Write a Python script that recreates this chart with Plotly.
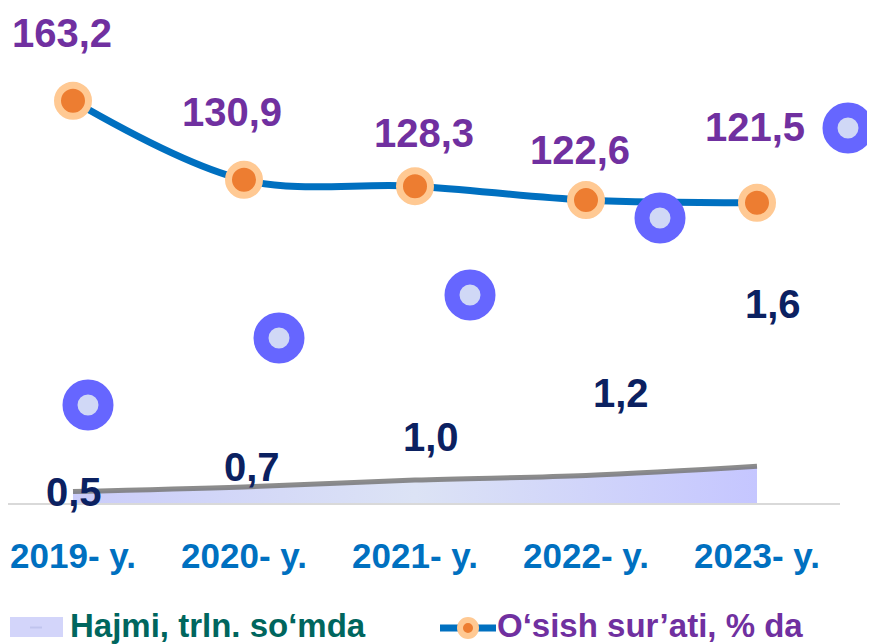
import plotly.graph_objects as go

# ---- data ----
years = ["2019- y.", "2020- y.", "2021- y.", "2022- y.", "2023- y."]
volume = [0.5, 0.7, 1.0, 1.2, 1.6]          # Hajmi, trln. so'mda
growth = [163.2, 130.9, 128.3, 122.6, 121.5]  # O'sish sur'ati, % da

vol_labels = ["0,5", "0,7", "1,0", "1,2", "1,6"]
gr_labels = ["163,2", "130,9", "128,3", "122,6", "121,5"]
series_names = ["Hajmi, trln. so‘mda", "O‘sish sur’ati, % da"]

# ---- label offsets (px) ----
vol_xshift = [1, 8, 16, 35, 16]
vol_yshift = [0, 20, 43, 83, 162]
gr_xshift = [-11, -12, 9, -6, -2]
gr_yshift = [68, 68, 53, 50, 76]

# ---- layout geometry (page body has an 8px margin) ----
OFF = 8
W, H = 875 - OFF, 644 - OFF
ML, MR, MT, MB = 0, 35, 0, 141
PW = W - ML - MR
PH = H - MT - MB

FONT = "Liberation Sans, Arial, sans-serif"
PURPLE = "#7030A0"
NAVY = "#0B2161"
BLUE = "#0070C0"
TEAL = "#00665E"
ORANGE = "#ED7D31"
PEACH = "#FFC993"


def px2paper_x(px):
    return (px - OFF - ML) / PW


def px2paper_y(py):
    return (MT + PH - (py - OFF)) / PH


fig = go.Figure()

fig.add_trace(go.Scatter(
    x=years, y=volume, mode="lines", fill="tozeroy",
    name=series_names[0],
    line=dict(color="rgba(120,120,120,0.85)", width=5, shape="spline"),
    fillgradient=dict(type="horizontal",
                      colorscale=[[0, "#CACCFA"], [0.5, "#DCE3F5"], [1, "#C5C6FF"]]),
    yaxis="y", hoverinfo="skip",
))

fig.add_trace(go.Scatter(
    x=years, y=growth, mode="lines+markers",
    name=series_names[1],
    line=dict(color=BLUE, width=7, shape="spline", smoothing=1),
    marker=dict(size=31, color=ORANGE, line=dict(color=PEACH, width=7)),
    yaxis="y2",
))

annotations = []
for i, (v, t) in enumerate(zip(volume, vol_labels)):
    annotations.append(dict(
        x=i, y=v, xref="x", yref="y", text=t, showarrow=False,
        xshift=vol_xshift[i], yshift=vol_yshift[i],
        font=dict(family=FONT, size=40, color=NAVY, weight="bold"),
    ))
for i, (g, t) in enumerate(zip(growth, gr_labels)):
    annotations.append(dict(
        x=i, y=g, xref="x", yref="y2", text=t, showarrow=False,
        xshift=gr_xshift[i], yshift=gr_yshift[i],
        font=dict(family=FONT, size=40, color=PURPLE, weight="bold"),
    ))

# ---- manual legend ----
LEG_Y = 625
annotations.append(dict(
    x=px2paper_x(68), y=px2paper_y(LEG_Y), xref="paper", yref="paper",
    xanchor="left", yanchor="middle", showarrow=False, text=series_names[0],
    font=dict(family=FONT, size=33, color=TEAL, weight="bold"),
))
annotations.append(dict(
    x=px2paper_x(495), y=px2paper_y(LEG_Y), xref="paper", yref="paper",
    xanchor="left", yanchor="middle", showarrow=False, text=series_names[1],
    font=dict(family=FONT, size=33, color=PURPLE, weight="bold"),
))

shapes = []
# area swatch
shapes.append(dict(
    type="rect", xref="paper", yref="paper",
    x0=px2paper_x(10), x1=px2paper_x(63), y0=px2paper_y(637), y1=px2paper_y(617),
    fillcolor="#D3D5FA", line=dict(width=0),
))
shapes.append(dict(
    type="rect", xref="paper", yref="paper",
    x0=px2paper_x(30), x1=px2paper_x(42), y0=px2paper_y(628.5), y1=px2paper_y(626.5),
    fillcolor="#C0C4EE", line=dict(width=0),
))
# line swatch
shapes.append(dict(
    type="line", xref="paper", yref="paper",
    x0=px2paper_x(440), x1=px2paper_x(496), y0=px2paper_y(628), y1=px2paper_y(628),
    line=dict(color=BLUE, width=7),
))
shapes.append(dict(
    type="circle", xref="paper", yref="paper",
    x0=px2paper_x(468 - 8), x1=px2paper_x(468 + 8),
    y0=px2paper_y(628 + 8), y1=px2paper_y(628 - 8),
    fillcolor=ORANGE, line=dict(color=PEACH, width=6),
))

# ---- decorative rings (pixel centres) ----
deco_rings = [(88, 405), (279, 338), (470, 295), (660, 218), (848, 128)]

for cx, cy in deco_rings:
    r = 18
    shapes.append(dict(
        type="circle", xref="paper", yref="paper", layer="above",
        x0=px2paper_x(cx - r), x1=px2paper_x(cx + r),
        y0=px2paper_y(cy + r), y1=px2paper_y(cy - r),
        fillcolor="#D0D8F6", line=dict(color="#6666FF", width=15),
    ))

# category positions: first at x=73px, spacing 171px
cat0, step = 73 - OFF, 171.0
x_lo = -cat0 / step
x_hi = (PW - cat0) / step

# growth axis: value 0 at y=500px, 2.446 px per unit
zero_y2 = 500 - OFF
ppu2 = 2.446
y2_lo = -(PH - zero_y2) / ppu2
y2_hi = zero_y2 / ppu2

fig.update_layout(
    width=W, height=H,
    margin=dict(l=ML, r=MR, t=MT, b=MB),
    paper_bgcolor="white", plot_bgcolor="white",
    showlegend=False,
    xaxis=dict(
        type="category", range=[x_lo, x_hi],
        showgrid=False, zeroline=False,
        showline=True, linecolor="#D9D9D9", linewidth=2,
        ticks="", ticklabelstandoff=21,
        tickfont=dict(family=FONT, size=35, color=BLUE, weight="bold"),
    ),
    yaxis=dict(range=[0, PH / 22.9], visible=False, fixedrange=True),
    yaxis2=dict(range=[y2_lo, y2_hi], overlaying="y", visible=False),
    annotations=annotations,
    shapes=shapes,
)

fig.write_html("out.html")
